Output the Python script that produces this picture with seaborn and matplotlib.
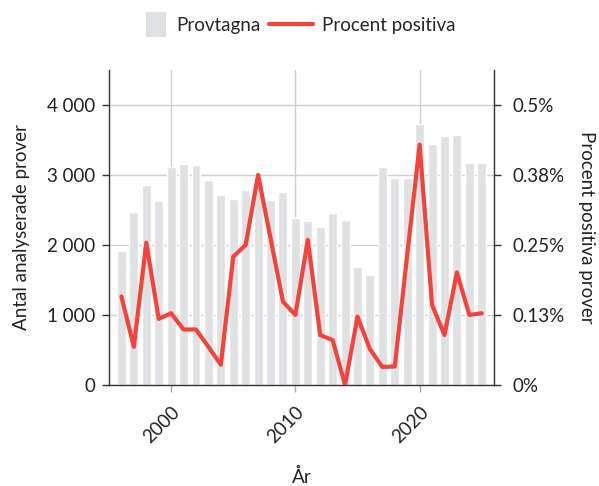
import matplotlib
matplotlib.use("Agg")
import matplotlib.pyplot as plt
import seaborn as sns
import pandas as pd
from matplotlib.lines import Line2D
from matplotlib.patches import Patch, Rectangle
from matplotlib.legend_handler import HandlerPatch
from matplotlib.ticker import FuncFormatter

# Data
years = list(range(1996, 2026))
provtagna = [1910, 2470, 2860, 2630, 3120, 3150, 3140, 2930, 2710, 2650,
             2790, 2950, 2640, 2760, 2390, 2340, 2260, 2460, 2360, 1680,
             1570, 3120, 2960, 2950, 3730, 3440, 3550, 3570, 3170, 3170]
procent = [0.158, 0.068, 0.254, 0.118, 0.128, 0.099, 0.099, 0.068, 0.036, 0.229,
           0.250, 0.375, 0.262, 0.149, 0.125, 0.259, 0.089, 0.080, 0.0, 0.122,
           0.064, 0.032, 0.033, 0.232, 0.429, 0.143, 0.089, 0.201, 0.125, 0.128]

df = pd.DataFrame({"year": years, "provtagna": provtagna, "procent": procent})

bar_color = "#e0e1e3"
line_color = "#f5433b"
fs = 13.5

sns.set_style("white")
plt.rcParams["font.family"] = ["Lato", "DejaVu Sans"]

fig = plt.figure(figsize=(5.99, 4.86), dpi=100)
ax = fig.add_axes([0.182, 0.208, 0.643, 0.648])

sns.barplot(data=df, x="year", y="provtagna", native_scale=True, width=0.72,
            color=bar_color, saturation=1, ax=ax, zorder=2)
ax.set_xlim(1995, 2026)
ax.set_ylim(0, 4500)
ax.set_yticks([0, 1000, 2000, 3000, 4000])
ax.yaxis.set_major_formatter(FuncFormatter(lambda v, p: f"{int(v):,}".replace(",", " ")))
ax.set_xticks([2000, 2010, 2020])
ax.set_xticklabels(["2000", "2010", "2020"], rotation=45, ha="right", rotation_mode="anchor")
ax.grid(True, color="#cfcfcf", linewidth=1)
ax.set_axisbelow(True)
ax.set_xlabel("År", fontsize=fs, labelpad=16, color="#222222")
ax.set_ylabel("Antal analyserade prover", fontsize=fs, color="#222222", labelpad=12)

ax2 = ax.twinx()
sns.lineplot(data=df, x="year", y="procent", color=line_color, linewidth=3,
             ax=ax2, zorder=3)
ax2.set_ylim(0, 0.5625)
ax2.set_yticks([0, 0.125, 0.25, 0.375, 0.5])
ax2.set_yticklabels(["0%", "0.13%", "0.25%", "0.38%", "0.5%"])
ax2.set_ylabel("Procent positiva prover", fontsize=fs, rotation=270,
               labelpad=22, color="#222222")
ax2.set_xlim(1995, 2026)

for a in (ax, ax2):
    a.spines["top"].set_visible(False)
    for s in ("left", "right", "bottom"):
        a.spines[s].set_color("#333333")
        a.spines[s].set_linewidth(1)
    a.tick_params(axis="y", length=5, width=1, color="#333333",
                  labelsize=fs, labelcolor="#222222", direction="out")
ax.tick_params(axis="y", left=True, pad=5)
ax2.tick_params(axis="y", right=True, pad=8)
ax.tick_params(axis="x", bottom=True, length=5, width=1, color="#aaaaaa",
               labelsize=fs, labelcolor="#222222", pad=8)
ax.spines["right"].set_visible(False)
ax2.spines["left"].set_visible(False)
ax2.spines["bottom"].set_visible(False)


class SquareHandler(HandlerPatch):
    def create_artists(self, legend, orig_handle, xdescent, ydescent,
                       width, height, fontsize, trans):
        h = 25 * 72 / 100
        w = 20 * 72 / 100
        r = Rectangle((-xdescent + width - w, -ydescent + height / 2 - h / 2), w, h,
                      facecolor=bar_color, edgecolor="none", transform=trans)
        return [r]


handles = [Patch(facecolor=bar_color, edgecolor="none"),
           Line2D([0], [0], color=line_color, linewidth=3)]
fig.legend(handles, ["Provtagna", "Procent positiva"], loc="upper center",
           bbox_to_anchor=(0.483, 1.0), ncol=2, frameon=False, fontsize=fs,
           handlelength=2.3, columnspacing=0.5, handletextpad=0.5,
           handler_map={Patch: SquareHandler()})

fig.savefig("out.png", dpi=100)
